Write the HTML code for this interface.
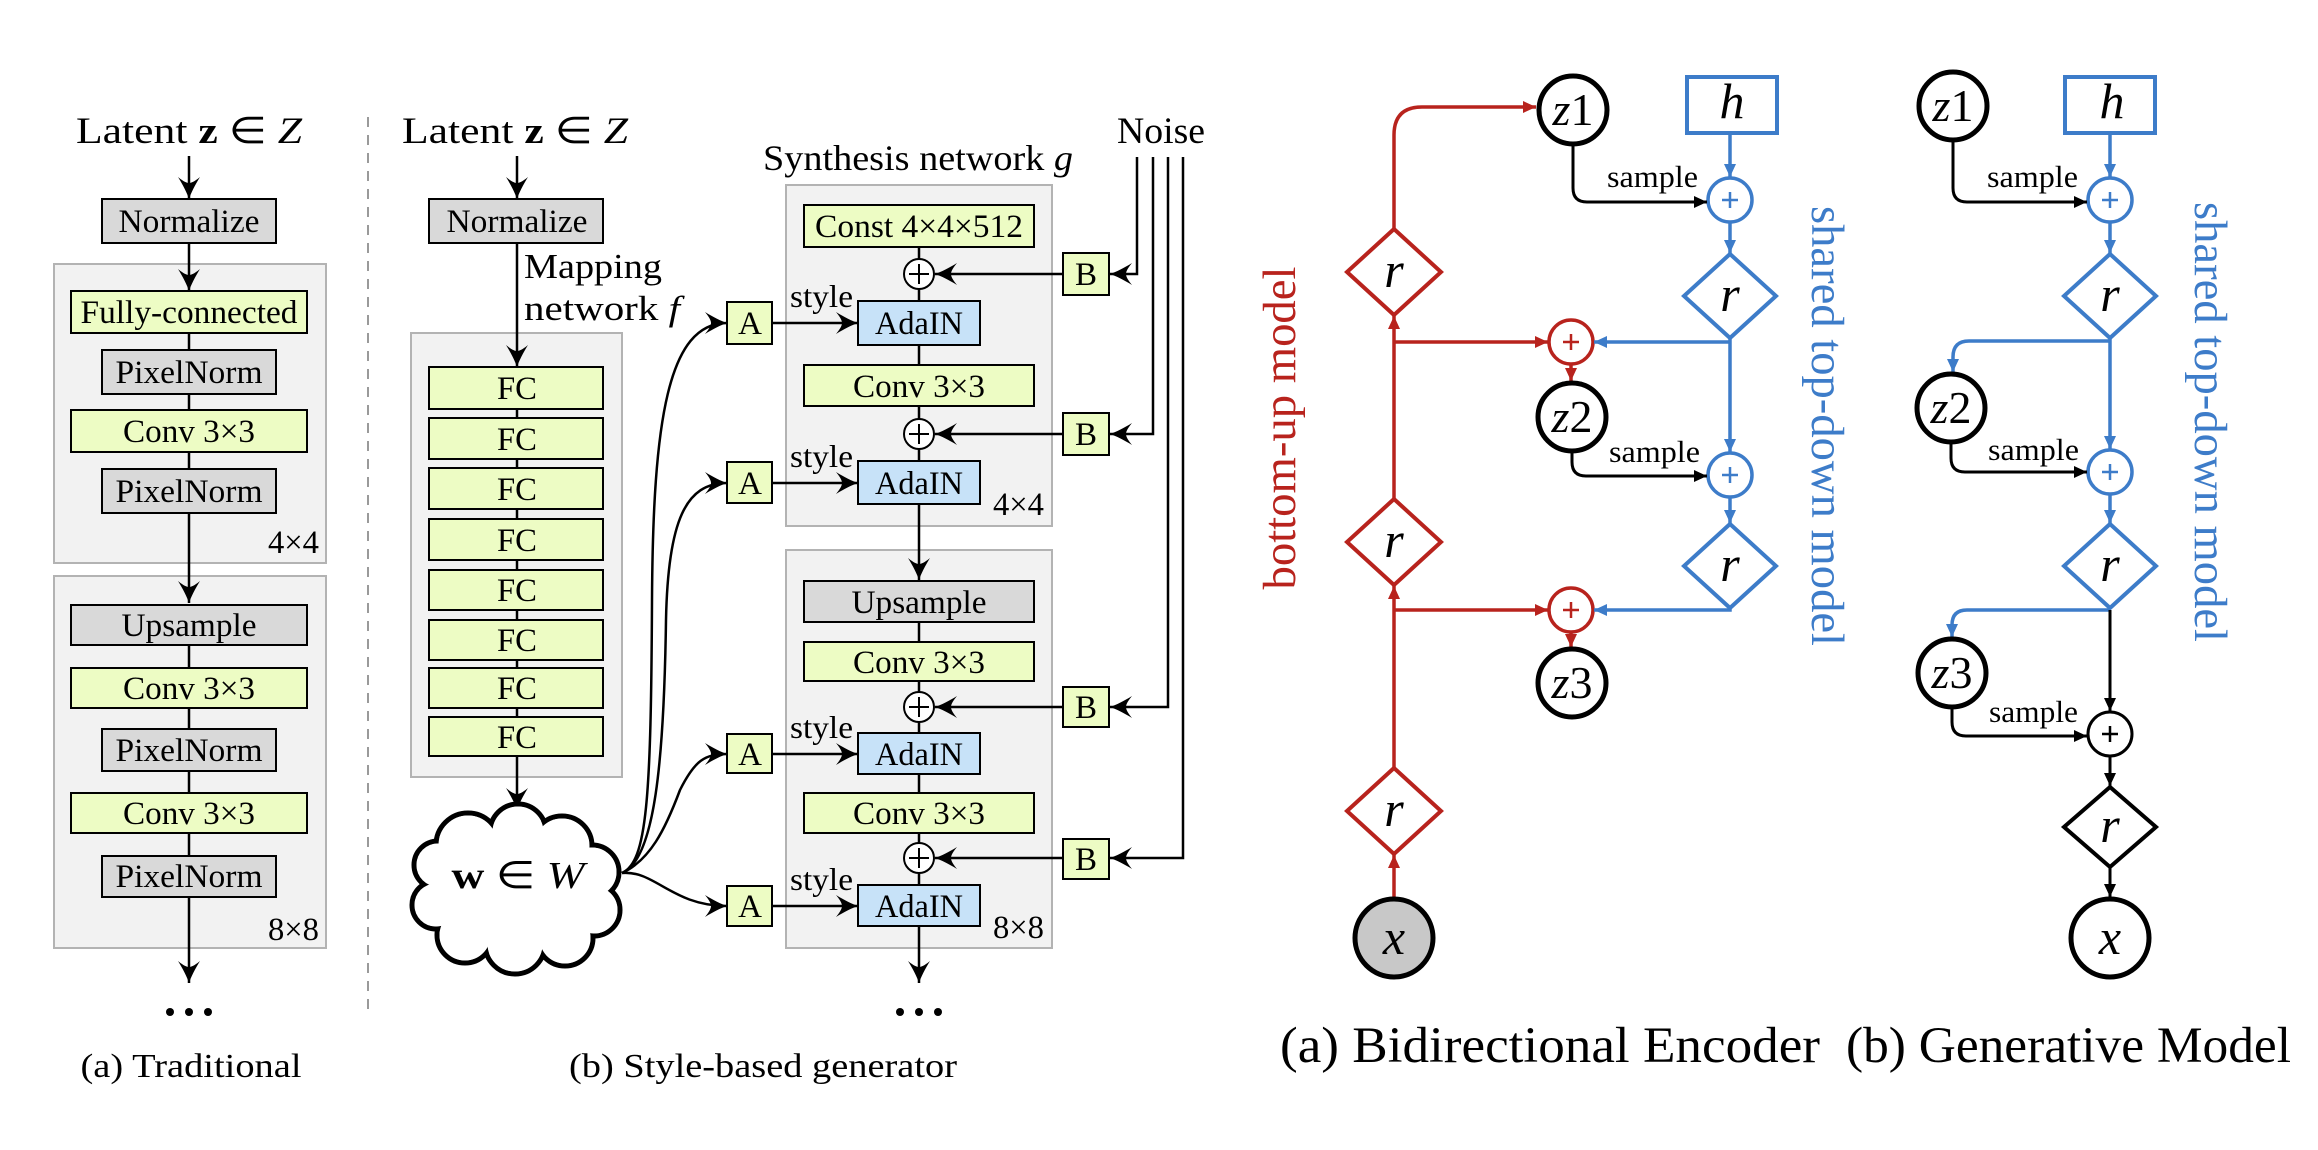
<!DOCTYPE html>
<html><head><meta charset="utf-8"><style>
html,body{margin:0;padding:0;background:#fff;}
svg{display:block;}
text{font-family:"Liberation Serif","Times New Roman",Times,serif;fill:#000;}
</style></head><body>
<svg width="2318" height="1150" viewBox="0 0 2318 1150" xmlns="http://www.w3.org/2000/svg" font-family="Liberation Serif, Times New Roman, serif">
<defs>
<marker id="st" viewBox="-24 -12 26 24" refX="0" refY="0" markerWidth="26" markerHeight="24" markerUnits="userSpaceOnUse" orient="auto">
<path d="M0,0 C-6,-2 -14,-6 -22,-11 C-17,-5 -16,-2 -16,0 C-16,2 -17,5 -22,11 C-14,6 -6,2 0,0 Z" fill="#000"/>
</marker>
<marker id="tk" viewBox="-14 -7 15 14" refX="0" refY="0" markerWidth="15" markerHeight="14" markerUnits="userSpaceOnUse" orient="auto"><path d="M0,0 L-13,-6 L-13,6 Z" fill="#000"/></marker>
<marker id="tr" viewBox="-14 -7 15 14" refX="0" refY="0" markerWidth="15" markerHeight="14" markerUnits="userSpaceOnUse" orient="auto"><path d="M0,0 L-13,-6 L-13,6 Z" fill="#b8231d"/></marker>
<marker id="tb" viewBox="-14 -7 15 14" refX="0" refY="0" markerWidth="15" markerHeight="14" markerUnits="userSpaceOnUse" orient="auto"><path d="M0,0 L-13,-6 L-13,6 Z" fill="#3d7cc9"/></marker>
</defs>

<!-- ===== (a) Traditional ===== -->
<text x="189" y="143" font-size="37" text-anchor="middle" textLength="226" lengthAdjust="spacingAndGlyphs">Latent <tspan font-weight="bold">z</tspan> ∈ <tspan font-style="italic">Z</tspan></text>
<rect x="54" y="264" width="272" height="299" fill="#f2f2f2" stroke="#b3b3b3" stroke-width="2"/>
<rect x="54" y="576" width="272" height="372" fill="#f2f2f2" stroke="#b3b3b3" stroke-width="2"/>
<g stroke="#000" stroke-width="2.5" fill="none">
<line x1="189" y1="156" x2="189" y2="199" marker-end="url(#st)"/>
<line x1="189" y1="243" x2="189" y2="291" marker-end="url(#st)"/>
<line x1="189" y1="333" x2="189" y2="603" marker-end="url(#st)"/>
<line x1="189" y1="645" x2="189" y2="983" marker-end="url(#st)"/>
</g>
<g stroke="#000" stroke-width="2">
<rect x="102" y="199" width="174" height="44" fill="#d9d9d9"/>
<rect x="71" y="291" width="236" height="42" fill="#edfcc4"/>
<rect x="102" y="350" width="174" height="44" fill="#d9d9d9"/>
<rect x="71" y="410" width="236" height="42" fill="#edfcc4"/>
<rect x="102" y="469" width="174" height="44" fill="#d9d9d9"/>
<rect x="71" y="605" width="236" height="40" fill="#d9d9d9"/>
<rect x="71" y="668" width="236" height="40" fill="#edfcc4"/>
<rect x="102" y="729" width="174" height="42" fill="#d9d9d9"/>
<rect x="71" y="793" width="236" height="40" fill="#edfcc4"/>
<rect x="102" y="856" width="174" height="41" fill="#d9d9d9"/>
</g>
<g font-size="33" text-anchor="middle" lengthAdjust="spacingAndGlyphs">
<text x="189" y="232" textLength="141" lengthAdjust="spacingAndGlyphs">Normalize</text>
<text x="189" y="323" textLength="217" lengthAdjust="spacingAndGlyphs">Fully-connected</text>
<text x="189" y="383" textLength="147" lengthAdjust="spacingAndGlyphs">PixelNorm</text>
<text x="189" y="442" textLength="132" lengthAdjust="spacingAndGlyphs">Conv 3×3</text>
<text x="189" y="502" textLength="147" lengthAdjust="spacingAndGlyphs">PixelNorm</text>
<text x="189" y="636" textLength="135" lengthAdjust="spacingAndGlyphs">Upsample</text>
<text x="189" y="699" textLength="132" lengthAdjust="spacingAndGlyphs">Conv 3×3</text>
<text x="189" y="761" textLength="147" lengthAdjust="spacingAndGlyphs">PixelNorm</text>
<text x="189" y="824" textLength="132" lengthAdjust="spacingAndGlyphs">Conv 3×3</text>
<text x="189" y="887" textLength="147" lengthAdjust="spacingAndGlyphs">PixelNorm</text>
</g>
<text x="319" y="553" font-size="33" text-anchor="end" textLength="51" lengthAdjust="spacingAndGlyphs">4×4</text>
<text x="319" y="940" font-size="33" text-anchor="end" textLength="51" lengthAdjust="spacingAndGlyphs">8×8</text>
<g fill="#000"><circle cx="170" cy="1012" r="4"/><circle cx="189" cy="1012" r="4"/><circle cx="208" cy="1012" r="4"/></g>
<text x="191" y="1077" font-size="34" text-anchor="middle" textLength="221" lengthAdjust="spacingAndGlyphs">(a) Traditional</text>

<line x1="368" y1="117" x2="368" y2="1012" stroke="#9a9a9a" stroke-width="2" stroke-dasharray="10,8"/>

<!-- ===== (b) Style-based ===== -->
<text x="515" y="143" font-size="37" text-anchor="middle" textLength="226" lengthAdjust="spacingAndGlyphs">Latent <tspan font-weight="bold">z</tspan> ∈ <tspan font-style="italic">Z</tspan></text>
<rect x="411" y="333" width="211" height="444" fill="#f2f2f2" stroke="#b3b3b3" stroke-width="2"/>
<g stroke="#000" stroke-width="2.5" fill="none">
<line x1="517" y1="156" x2="517" y2="199" marker-end="url(#st)"/>
<line x1="517" y1="243" x2="517" y2="367" marker-end="url(#st)"/>
<line x1="517" y1="409" x2="517" y2="810" marker-end="url(#st)"/>
</g>
<text x="524" y="278" font-size="35" textLength="138" lengthAdjust="spacingAndGlyphs">Mapping</text>
<text x="524" y="320" font-size="35" textLength="156" lengthAdjust="spacingAndGlyphs">network <tspan font-style="italic">f</tspan></text>
<rect x="429" y="199" width="174" height="44" fill="#d9d9d9" stroke="#000" stroke-width="2"/>
<text x="517" y="232" font-size="33" text-anchor="middle" textLength="141" lengthAdjust="spacingAndGlyphs">Normalize</text>
<g stroke="#000" stroke-width="2" fill="#edfcc4">
<rect x="429" y="367" width="174" height="42"/>
<rect x="429" y="418" width="174" height="41"/>
<rect x="429" y="468" width="174" height="41"/>
<rect x="429" y="519" width="174" height="41"/>
<rect x="429" y="570" width="174" height="40"/>
<rect x="429" y="620" width="174" height="40"/>
<rect x="429" y="668" width="174" height="40"/>
<rect x="429" y="717" width="174" height="39"/>
</g>
<g font-size="33" text-anchor="middle">
<text x="517" y="399" textLength="40" lengthAdjust="spacingAndGlyphs">FC</text><text x="517" y="450" textLength="40" lengthAdjust="spacingAndGlyphs">FC</text><text x="517" y="500" textLength="40" lengthAdjust="spacingAndGlyphs">FC</text><text x="517" y="551" textLength="40" lengthAdjust="spacingAndGlyphs">FC</text>
<text x="517" y="601" textLength="40" lengthAdjust="spacingAndGlyphs">FC</text><text x="517" y="651" textLength="40" lengthAdjust="spacingAndGlyphs">FC</text><text x="517" y="699" textLength="40" lengthAdjust="spacingAndGlyphs">FC</text><text x="517" y="748" textLength="40" lengthAdjust="spacingAndGlyphs">FC</text>
</g>

<!-- cloud -->
<g stroke="#000" stroke-width="5" fill="#fff">
<circle cx="468" cy="845" r="32"/><circle cx="518" cy="832" r="28"/><circle cx="562" cy="846" r="30"/>
<circle cx="592" cy="872" r="27"/><circle cx="594" cy="910" r="26"/><circle cx="565" cy="938" r="28"/>
<circle cx="515" cy="944" r="30"/><circle cx="465" cy="935" r="28"/><circle cx="436" cy="905" r="24"/><circle cx="438" cy="865" r="24"/>
</g>
<g fill="#fff">
<circle cx="468" cy="845" r="29.5"/><circle cx="518" cy="832" r="25.5"/><circle cx="562" cy="846" r="27.5"/>
<circle cx="592" cy="872" r="24.5"/><circle cx="594" cy="910" r="23.5"/><circle cx="565" cy="938" r="25.5"/>
<circle cx="515" cy="944" r="27.5"/><circle cx="465" cy="935" r="25.5"/><circle cx="436" cy="905" r="21.5"/><circle cx="438" cy="865" r="21.5"/>
<ellipse cx="515" cy="888" rx="80" ry="50"/>
</g>
<text x="518" y="888" font-size="38" text-anchor="middle" textLength="133" lengthAdjust="spacingAndGlyphs"><tspan font-weight="bold">w</tspan> ∈ <tspan font-style="italic">W</tspan></text>

<!-- curves to A -->
<g stroke="#000" stroke-width="2.5" fill="none">
<path d="M622,873 C647,862 651,800 652,600 C653,420 668,323 727,323" marker-end="url(#st)"/>
<path d="M622,873 C655,860 664,760 666,620 C668,520 686,483 727,483" marker-end="url(#st)"/>
<path d="M622,873 C650,860 665,830 680,790 C695,760 705,754 727,754" marker-end="url(#st)"/>
<path d="M622,873 C655,870 672,906 727,906" marker-end="url(#st)"/>
</g>

<text x="763" y="170" font-size="36" textLength="310" lengthAdjust="spacingAndGlyphs">Synthesis network <tspan font-style="italic">g</tspan></text>
<text x="1161" y="143" font-size="37" text-anchor="middle" textLength="88" lengthAdjust="spacingAndGlyphs">Noise</text>
<rect x="786" y="185" width="266" height="341" fill="#f2f2f2" stroke="#b3b3b3" stroke-width="2"/>
<rect x="786" y="550" width="266" height="398" fill="#f2f2f2" stroke="#b3b3b3" stroke-width="2"/>

<g stroke="#000" stroke-width="2.5" fill="none">
<line x1="919" y1="247" x2="919" y2="580" marker-end="url(#st)"/>
<line x1="919" y1="622" x2="919" y2="983" marker-end="url(#st)"/>
<polyline points="1137,157 1137,274 1110,274" marker-end="url(#st)"/>
<polyline points="1153,157 1153,434 1110,434" marker-end="url(#st)"/>
<polyline points="1168,157 1168,707 1110,707" marker-end="url(#st)"/>
<polyline points="1183,157 1183,858 1110,858" marker-end="url(#st)"/>
<line x1="1063" y1="274" x2="935" y2="274" marker-end="url(#st)"/>
<line x1="1063" y1="434" x2="935" y2="434" marker-end="url(#st)"/>
<line x1="1063" y1="707" x2="935" y2="707" marker-end="url(#st)"/>
<line x1="1063" y1="858" x2="935" y2="858" marker-end="url(#st)"/>
<line x1="772" y1="323" x2="858" y2="323" marker-end="url(#st)"/>
<line x1="772" y1="483" x2="858" y2="483" marker-end="url(#st)"/>
<line x1="772" y1="754" x2="858" y2="754" marker-end="url(#st)"/>
<line x1="772" y1="906" x2="858" y2="906" marker-end="url(#st)"/>
</g>
<g stroke="#000" stroke-width="2">
<rect x="804" y="205" width="230" height="42" fill="#edfcc4"/>
<rect x="858" y="301" width="122" height="44" fill="#c7e2f8"/>
<rect x="804" y="365" width="230" height="41" fill="#edfcc4"/>
<rect x="858" y="461" width="122" height="43" fill="#c7e2f8"/>
<rect x="804" y="581" width="230" height="41" fill="#d9d9d9"/>
<rect x="804" y="642" width="230" height="39" fill="#edfcc4"/>
<rect x="858" y="733" width="122" height="41" fill="#c7e2f8"/>
<rect x="804" y="793" width="230" height="40" fill="#edfcc4"/>
<rect x="858" y="885" width="122" height="41" fill="#c7e2f8"/>
<rect x="1063" y="253" width="46" height="42" fill="#edfcc4"/>
<rect x="1063" y="413" width="46" height="42" fill="#edfcc4"/>
<rect x="1063" y="687" width="46" height="40" fill="#edfcc4"/>
<rect x="1063" y="839" width="46" height="40" fill="#edfcc4"/>
<rect x="727" y="302" width="45" height="42" fill="#edfcc4"/>
<rect x="727" y="462" width="45" height="41" fill="#edfcc4"/>
<rect x="727" y="734" width="45" height="39" fill="#edfcc4"/>
<rect x="727" y="886" width="45" height="40" fill="#edfcc4"/>
<circle cx="919" cy="274" r="15" fill="#fff"/>
<circle cx="919" cy="434" r="15" fill="#fff"/>
<circle cx="919" cy="707" r="15" fill="#fff"/>
<circle cx="919" cy="858" r="15" fill="#fff"/>
<path d="M909,274H929M919,264V284M909,434H929M919,424V444M909,707H929M919,697V717M909,858H929M919,848V868" fill="none"/>
</g>
<g font-size="33" text-anchor="middle">
<text x="919" y="237" textLength="208" lengthAdjust="spacingAndGlyphs">Const 4×4×512</text>
<text x="919" y="334" textLength="88" lengthAdjust="spacingAndGlyphs">AdaIN</text>
<text x="919" y="397" textLength="132" lengthAdjust="spacingAndGlyphs">Conv 3×3</text>
<text x="919" y="494" textLength="88" lengthAdjust="spacingAndGlyphs">AdaIN</text>
<text x="919" y="613" textLength="135" lengthAdjust="spacingAndGlyphs">Upsample</text>
<text x="919" y="673" textLength="132" lengthAdjust="spacingAndGlyphs">Conv 3×3</text>
<text x="919" y="765" textLength="88" lengthAdjust="spacingAndGlyphs">AdaIN</text>
<text x="919" y="824" textLength="132" lengthAdjust="spacingAndGlyphs">Conv 3×3</text>
<text x="919" y="917" textLength="88" lengthAdjust="spacingAndGlyphs">AdaIN</text>
<text x="1086" y="285">B</text><text x="1086" y="445">B</text><text x="1086" y="718">B</text><text x="1086" y="870">B</text>
<text x="750" y="334">A</text><text x="750" y="494">A</text><text x="750" y="765">A</text><text x="750" y="917">A</text>
</g>
<g font-size="32">
<text x="790" y="307" textLength="63" lengthAdjust="spacingAndGlyphs">style</text><text x="790" y="467" textLength="63" lengthAdjust="spacingAndGlyphs">style</text><text x="790" y="738" textLength="63" lengthAdjust="spacingAndGlyphs">style</text><text x="790" y="890" textLength="63" lengthAdjust="spacingAndGlyphs">style</text>
</g>
<text x="1044" y="515" font-size="33" text-anchor="end" textLength="51" lengthAdjust="spacingAndGlyphs">4×4</text>
<text x="1044" y="938" font-size="33" text-anchor="end" textLength="51" lengthAdjust="spacingAndGlyphs">8×8</text>
<g fill="#000"><circle cx="900" cy="1012" r="4"/><circle cx="919" cy="1012" r="4"/><circle cx="938" cy="1012" r="4"/></g>
<text x="763" y="1077" font-size="34" text-anchor="middle" textLength="388" lengthAdjust="spacingAndGlyphs">(b) Style-based generator</text>

<!-- ===== Right (a) Bidirectional Encoder ===== -->
<g stroke="#b8231d" stroke-width="3.5" fill="none">
<line x1="1394" y1="898" x2="1394" y2="855" marker-end="url(#tr)"/>
<line x1="1394" y1="768" x2="1394" y2="586" marker-end="url(#tr)"/>
<line x1="1394" y1="499" x2="1394" y2="316" marker-end="url(#tr)"/>
<path d="M1394,229 V135 Q1394,107 1422,107 H1536" marker-end="url(#tr)"/>
<line x1="1394" y1="342" x2="1548" y2="342" marker-end="url(#tr)"/>
<line x1="1394" y1="610" x2="1548" y2="610" marker-end="url(#tr)"/>
<line x1="1571" y1="365" x2="1571" y2="381" marker-end="url(#tr)"/>
<line x1="1571" y1="632" x2="1571" y2="647" marker-end="url(#tr)"/>
<polygon points="1394,768 1441,811 1394,854 1347,811" stroke-width="4"/>
<polygon points="1394,499 1441,542 1394,585 1347,542" stroke-width="4"/>
<polygon points="1394,229 1441,272 1394,315 1347,272" stroke-width="4"/>
<circle cx="1571" cy="342" r="22" fill="#fff"/>
<circle cx="1571" cy="610" r="22" fill="#fff"/>
<path d="M1563,342H1579M1571,334V350M1563,610H1579M1571,602V618" stroke-width="2.5"/>
</g>
<g stroke="#3d7cc9" stroke-width="3.5" fill="none">
<line x1="1730" y1="133" x2="1730" y2="177" marker-end="url(#tb)"/>
<line x1="1730" y1="222" x2="1730" y2="253" marker-end="url(#tb)"/>
<line x1="1730" y1="338" x2="1730" y2="452" marker-end="url(#tb)"/>
<line x1="1730" y1="342" x2="1594" y2="342" marker-end="url(#tb)"/>
<line x1="1730" y1="497" x2="1730" y2="523" marker-end="url(#tb)"/>
<polyline points="1730,608 1730,610 1594,610" marker-end="url(#tb)"/>
<rect x="1687" y="77" width="90" height="56" fill="#fff" stroke-width="4"/>
<polygon points="1730,254 1776,296 1730,338 1684,296" stroke-width="4"/>
<polygon points="1730,524 1776,566 1730,608 1684,566" stroke-width="4"/>
<circle cx="1730" cy="200" r="22" fill="#fff"/>
<circle cx="1730" cy="475" r="22" fill="#fff"/>
<path d="M1722,200H1738M1730,192V208M1722,475H1738M1730,467V483" stroke-width="2.5"/>
</g>
<g stroke="#000" stroke-width="3" fill="none">
<path d="M1573,145 V188 Q1573,202 1587,202 H1707" marker-end="url(#tk)"/>
<path d="M1572,452 V462 Q1572,476 1586,476 H1707" marker-end="url(#tk)"/>
</g>
<g stroke="#000" stroke-width="5">
<circle cx="1394" cy="938" r="39" fill="#c8c8c8"/>
<circle cx="1573" cy="110" r="34" fill="#fff"/>
<circle cx="1572" cy="417" r="34" fill="#fff"/>
<circle cx="1572" cy="683" r="34" fill="#fff"/>
</g>
<g font-size="50" font-style="italic" text-anchor="middle">
<text x="1394" y="954">x</text>
<text x="1394" y="826">r</text><text x="1394" y="557">r</text><text x="1394" y="287">r</text>
<text x="1730" y="311">r</text><text x="1730" y="581">r</text>
<text x="1732" y="118">h</text>
</g>
<g font-size="46" text-anchor="middle">
<text x="1573" y="125"><tspan font-style="italic">z</tspan>1</text>
<text x="1572" y="432"><tspan font-style="italic">z</tspan>2</text>
<text x="1572" y="698"><tspan font-style="italic">z</tspan>3</text>
</g>
<g font-size="31">
<text x="1607" y="187" textLength="91" lengthAdjust="spacingAndGlyphs">sample</text>
<text x="1609" y="462" textLength="91" lengthAdjust="spacingAndGlyphs">sample</text>
</g>
<text transform="translate(1295,428) rotate(-90)" font-size="47" style="fill:#b8231d" text-anchor="middle" textLength="323" lengthAdjust="spacingAndGlyphs">bottom-up model</text>
<text transform="translate(1812,426) rotate(90)" font-size="47" style="fill:#3d7cc9" text-anchor="middle" textLength="440" lengthAdjust="spacingAndGlyphs">shared top-down model</text>

<!-- ===== Right (b) Generative Model ===== -->
<g stroke="#3d7cc9" stroke-width="3.5" fill="none">
<line x1="2110" y1="133" x2="2110" y2="177" marker-end="url(#tb)"/>
<line x1="2110" y1="222" x2="2110" y2="253" marker-end="url(#tb)"/>
<line x1="2110" y1="338" x2="2110" y2="449" marker-end="url(#tb)"/>
<path d="M2110,341 H1969 Q1953,341 1953,357 V372" marker-end="url(#tb)"/>
<line x1="2110" y1="494" x2="2110" y2="523" marker-end="url(#tb)"/>
<path d="M2110,610 H1967 Q1952,610 1952,625 V637" marker-end="url(#tb)"/>
<rect x="2065" y="77" width="90" height="56" fill="#fff" stroke-width="4"/>
<polygon points="2110,254 2156,296 2110,338 2064,296" stroke-width="4"/>
<polygon points="2110,524 2156,566 2110,608 2064,566" stroke-width="4"/>
<circle cx="2110" cy="200" r="22" fill="#fff"/>
<circle cx="2110" cy="472" r="22" fill="#fff"/>
<path d="M2102,200H2118M2110,192V208M2102,472H2118M2110,464V480" stroke-width="2.5"/>
</g>
<g stroke="#000" stroke-width="3" fill="none">
<line x1="2110" y1="610" x2="2110" y2="711" marker-end="url(#tk)"/>
<line x1="2110" y1="756" x2="2110" y2="786" marker-end="url(#tk)"/>
<line x1="2110" y1="867" x2="2110" y2="897" marker-end="url(#tk)"/>
<path d="M1953,141 V188 Q1953,202 1967,202 H2087" marker-end="url(#tk)"/>
<path d="M1951,443 V458 Q1951,472 1965,472 H2087" marker-end="url(#tk)"/>
<path d="M1952,708 V722 Q1952,736 1966,736 H2087" marker-end="url(#tk)"/>
<polygon points="2110,787 2156,827 2110,867 2064,827" stroke-width="4"/>
<circle cx="2110" cy="734" r="22" fill="#fff"/>
<path d="M2102,734H2118M2110,726V742" stroke-width="2.5"/>
</g>
<g stroke="#000" stroke-width="5" fill="#fff">
<circle cx="2110" cy="938" r="39"/>
<circle cx="1953" cy="106" r="34"/>
<circle cx="1951" cy="408" r="34"/>
<circle cx="1952" cy="673" r="34"/>
</g>
<g font-size="50" font-style="italic" text-anchor="middle">
<text x="2110" y="954">x</text>
<text x="2110" y="311">r</text><text x="2110" y="581">r</text><text x="2110" y="842">r</text>
<text x="2112" y="118">h</text>
</g>
<g font-size="46" text-anchor="middle">
<text x="1953" y="121"><tspan font-style="italic">z</tspan>1</text>
<text x="1951" y="423"><tspan font-style="italic">z</tspan>2</text>
<text x="1952" y="688"><tspan font-style="italic">z</tspan>3</text>
</g>
<g font-size="31">
<text x="1987" y="187" textLength="91" lengthAdjust="spacingAndGlyphs">sample</text>
<text x="1988" y="460" textLength="91" lengthAdjust="spacingAndGlyphs">sample</text>
<text x="1989" y="722" textLength="89" lengthAdjust="spacingAndGlyphs">sample</text>
</g>
<text transform="translate(2195,422) rotate(90)" font-size="47" style="fill:#3d7cc9" text-anchor="middle" textLength="440" lengthAdjust="spacingAndGlyphs">shared top-down model</text>

<text x="1280" y="1062" font-size="51" textLength="540" lengthAdjust="spacingAndGlyphs">(a) Bidirectional Encoder</text>
<text x="1846" y="1062" font-size="51" textLength="445" lengthAdjust="spacingAndGlyphs">(b) Generative Model</text>
</svg>
</body></html>
